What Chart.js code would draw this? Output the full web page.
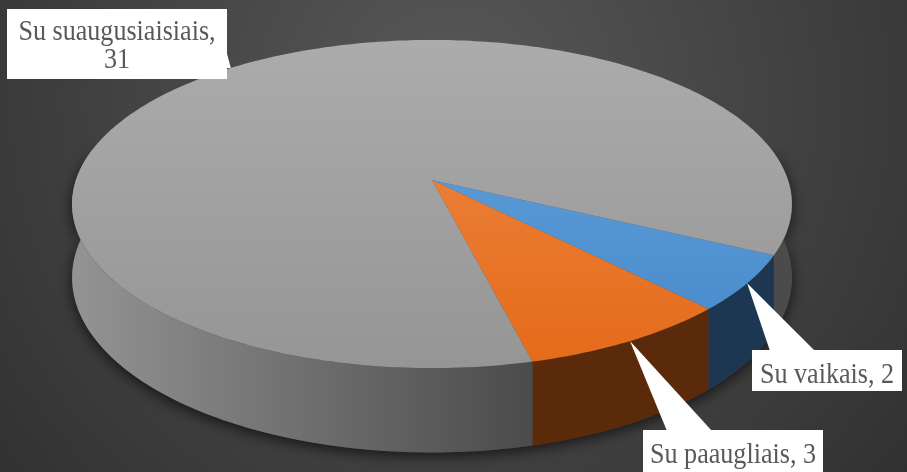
<!DOCTYPE html>
<html lang="lt">
<head>
<meta charset="UTF-8">
<title>Pie 3D</title>
<style>
  body { margin: 0; padding: 0; background: #333; }
  canvas { display: block; }
</style>
</head>
<body>
<canvas id="myChart" width="907" height="472"></canvas>
<script src="https://cdn.jsdelivr.net/npm/chart.js@4.4.1/dist/chart.umd.min.js"></script>
<script>
// data
const labels = ['Su vaikais', 'Su paaugliais', 'Su suaugusiaisiais'];
const values = [2, 3, 31];

// styles
const topColors = [['#66a6df', '#4688c9'], ['#f18d4e', '#e46a18'], ['#adadad', '#959595']];
const sideColors = [['#21405f', '#1d3753'], ['#612e0c', '#5a2a0a'], ['#939393', '#4b4b4b']];

// callout boxes (x, y, w, h) and where the pointer leaves the box
const callouts = [
  { x: 752, y: 350, w: 150, h: 41, base: [[770, 351], [815, 351]], lines: 1 },
  { x: 643, y: 430, w: 180, h: 50, base: [[667, 431], [712, 431]], lines: 1 },
  { x: 7, y: 9, w: 220, h: 70, base: [[226, 50], [226, 68]], lines: 2 }
];

// projection of the flat pie into a tilted disc
const AX = 1.978, BY = 0.892, K = 0.1464, DEPTH = 72;

function proj(c, th, f, dz) {
  const u = Math.cos(th) * f, v = Math.sin(th) * f;
  const s = 1 / (1 - K * v);
  return [c.x + AX * c.r * u * s, c.y + BY * c.r * v * s + DEPTH * s * dz];
}

function arcPts(c, a1, a2, dz) {
  const pts = [];
  const n = Math.max(2, Math.ceil(Math.abs(a2 - a1) / (Math.PI / 180)));
  for (let i = 0; i <= n; i++) pts.push(proj(c, a1 + (a2 - a1) * i / n, 1, dz));
  return pts;
}

function wallPath(ctx, c, b1, b2) {
  const top = arcPts(c, b1, b2, 0);
  const bot = arcPts(c, b2, b1, 1);
  ctx.beginPath();
  ctx.moveTo(top[0][0], top[0][1]);
  top.forEach(p => ctx.lineTo(p[0], p[1]));
  bot.forEach(p => ctx.lineTo(p[0], p[1]));
  ctx.closePath();
}

const pie3d = {
  id: 'pie3d',
  beforeDraw(chart) {
    const ctx = chart.ctx;
    const g = ctx.createRadialGradient(450, 100, 0, 450, 100, 620);
    g.addColorStop(0, '#585858');
    g.addColorStop(1, '#2f2f2f');
    ctx.save();
    ctx.fillStyle = g;
    ctx.fillRect(0, 0, chart.width, chart.height);
    ctx.restore();
  },
  beforeDatasetsDraw(chart) {
    const ctx = chart.ctx;
    const arcs = chart.getDatasetMeta(0).data;
    const a0 = arcs[0].getProps(['x', 'y', 'outerRadius']);
    const c = { x: a0.x, y: a0.y, r: a0.outerRadius };

    // shadow under the disc
    ctx.save();
    ctx.shadowColor = 'rgba(0,0,0,0.65)';
    ctx.shadowBlur = 14;
    ctx.shadowOffsetY = 4;
    ctx.fillStyle = '#444';
    wallPath(ctx, c, -0.2, Math.PI + 0.2);
    ctx.fill();
    ctx.restore();

    // side walls (front half only)
    arcs.forEach((arc, i) => {
      const p = arc.getProps(['startAngle', 'endAngle']);
      for (let k = -1; k <= 1; k++) {
        const lo = Math.max(p.startAngle, -0.2 + k * 2 * Math.PI);
        const hi = Math.min(p.endAngle, Math.PI + 0.2 + k * 2 * Math.PI);
        if (hi <= lo) continue;
        const g = ctx.createLinearGradient(c.x - AX * c.r, 0, c.x + 0.55 * c.r, 0);
        g.addColorStop(0, sideColors[i][0]);
        g.addColorStop(1, sideColors[i][1]);
        ctx.fillStyle = g;
        wallPath(ctx, c, lo, hi);
        ctx.fill();
      }
    });

    // top faces
    arcs.forEach((arc, i) => {
      const p = arc.getProps(['startAngle', 'endAngle']);
      const pts = arcPts(c, p.startAngle, p.endAngle, 0);
      const g = ctx.createLinearGradient(0, c.y - BY * c.r, 0, c.y + BY * c.r * 1.2);
      g.addColorStop(0, topColors[i][0]);
      g.addColorStop(1, topColors[i][1]);
      ctx.beginPath();
      ctx.moveTo(c.x, c.y);
      pts.forEach(q => ctx.lineTo(q[0], q[1]));
      ctx.closePath();
      ctx.fillStyle = g;
      ctx.fill();
    });
    return false;
  },
  afterDraw(chart) {
    const ctx = chart.ctx;
    const arcs = chart.getDatasetMeta(0).data;
    const a0 = arcs[0].getProps(['x', 'y', 'outerRadius']);
    const c = { x: a0.x, y: a0.y, r: a0.outerRadius };
    arcs.forEach((arc, i) => {
      const p = arc.getProps(['startAngle', 'endAngle']);
      const tip = proj(c, (p.startAngle + p.endAngle) / 2, 1, 0);
      const b = callouts[i];
      ctx.save();
      ctx.fillStyle = '#ffffff';
      ctx.fillRect(b.x, b.y, b.w, b.h);
      ctx.beginPath();
      ctx.moveTo(b.base[0][0], b.base[0][1]);
      ctx.lineTo(tip[0], tip[1]);
      ctx.lineTo(b.base[1][0], b.base[1][1]);
      ctx.closePath();
      ctx.fill();

      ctx.fillStyle = '#595959';
      ctx.font = '29px "Liberation Serif", "Times New Roman", serif';
      ctx.textAlign = 'center';
      ctx.textBaseline = 'alphabetic';
      const lines = b.lines === 2
        ? [labels[i] + ',', String(values[i])]
        : [labels[i] + ', ' + values[i]];
      const cx = b.x + b.w / 2;
      const y0 = b.lines === 2 ? b.y + 31 : b.y + 33;
      lines.forEach((t, j) => {
        ctx.save();
        ctx.translate(cx, y0 + j * 28);
        ctx.scale(0.9, 1);
        ctx.fillText(t, 0, 0);
        ctx.restore();
      });
      ctx.restore();
    });
  }
};

new Chart(document.getElementById('myChart'), {
  type: 'pie',
  data: {
    labels: labels,
    datasets: [{ data: values, backgroundColor: topColors.map(t => t[0]), borderWidth: 0 }]
  },
  options: {
    responsive: false,
    animation: false,
    rotation: 116,
    layout: { padding: { left: 0, right: 43, top: 0, bottom: 112 } },
    plugins: { legend: { display: false }, tooltip: { enabled: false } }
  },
  plugins: [pie3d]
});
</script>
</body>
</html>
